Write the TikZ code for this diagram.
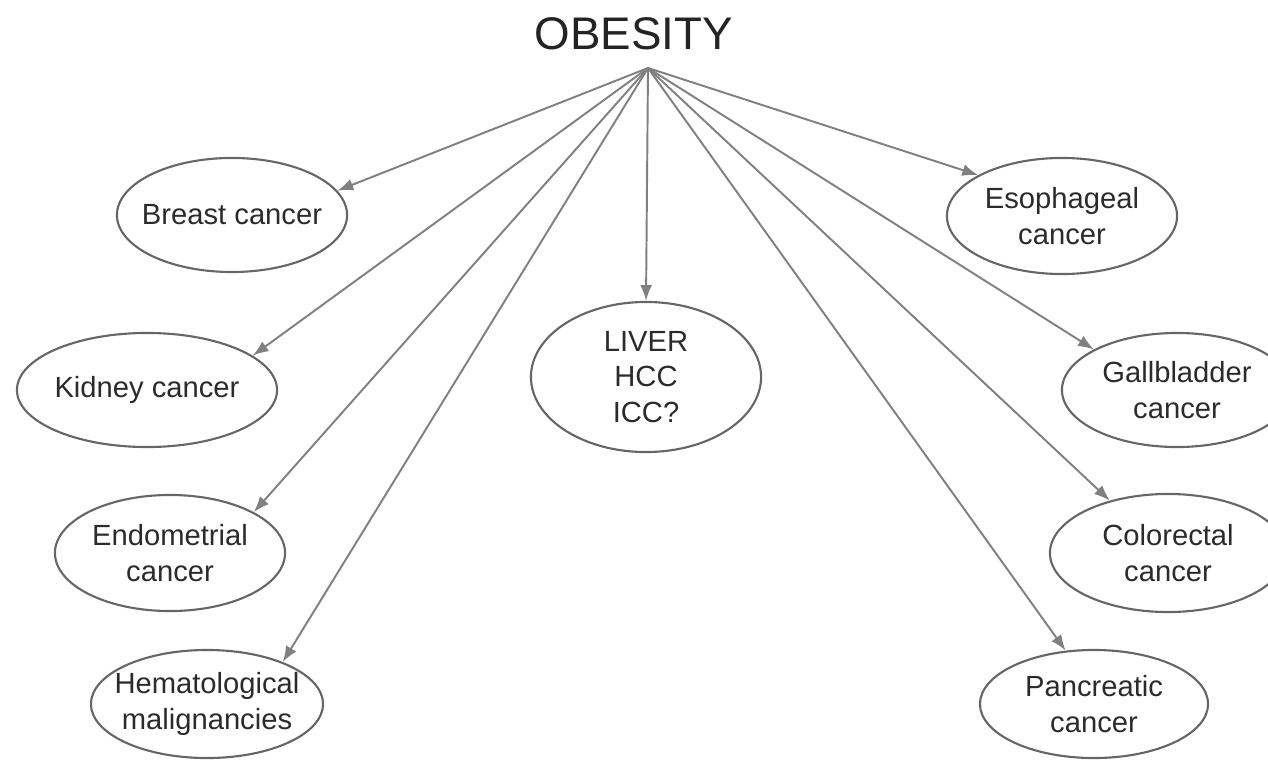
\documentclass[tikz,border=0pt]{standalone}
\usepackage{fontspec}
\setmainfont{Liberation Sans}
\usetikzlibrary{shapes.geometric,arrows.meta}

\begin{document}
\begin{tikzpicture}[x=0.01cm, y=-0.01cm,
        cancer/.style={ellipse, draw={rgb:black,3;white,2}, line width=0.6pt,
            inner xsep=-6mm, inner ysep=-5mm, align=center,
            text={rgb:black,5;white,1}, font=\fontsize{8.3}{10}\selectfont},
        link/.style={draw={rgb:black,1;white,1}, line width=0.55pt,
            -{Latex[length=4.5pt,width=3.4pt]}}]

        \useasboundingbox (0,0) rectangle (1268,761);
        \clip (0,0) rectangle (1268,761);

        \node[anchor=base, text={rgb:black,6;white,1}, font=\fontsize{13}{15}\selectfont] (obesity) at (634,50) {OBESITY};
        \coordinate (hub) at (648,68);

        % left column
        \node[cancer, minimum width=2.30cm, minimum height=1.14cm] (breast) at (232,215) {Breast cancer};
        \node[cancer, minimum width=2.60cm, minimum height=1.14cm] (kidney) at (147,390) {Kidney cancer};
        \node[cancer, minimum width=2.30cm, minimum height=1.16cm] (endometrial) at (170,553) {Endometrial\\cancer};
        \node[cancer, minimum width=2.32cm, minimum height=1.08cm] (hemato) at (207,704) {Hematological\\malignancies};

        % middle
        \node[cancer, minimum width=2.30cm, minimum height=1.50cm] (liver) at (646,377) {LIVER\\HCC\\ICC?};

        % right column
        \node[cancer, minimum width=2.30cm, minimum height=1.16cm] (esophageal) at (1062,216) {Esophageal\\cancer};
        \node[cancer, minimum width=2.30cm, minimum height=1.14cm] (gallbladder) at (1177,390) {Gallbladder\\cancer};
        \node[cancer, minimum width=2.36cm, minimum height=1.18cm] (colorectal) at (1168,553) {Colorectal\\cancer};
        \node[cancer, minimum width=2.28cm, minimum height=1.08cm] (pancreatic) at (1094,704) {Pancreatic\\cancer};

        \draw[link] (hub) -- (breast.13);
        \draw[link] (hub) -- (kidney.18);
        \draw[link] (hub) -- (endometrial.26);
        \draw[link] (hub) -- (hemato.29);
        \draw[link] (hub) -- (liver.north);
        \draw[link] (hub) -- (esophageal.154);
        \draw[link] (hub) -- (gallbladder.154);
        \draw[link] (hub) -- (colorectal.138);
        \draw[link] (hub) -- (pancreatic.118);

\end{tikzpicture}
\end{document}
